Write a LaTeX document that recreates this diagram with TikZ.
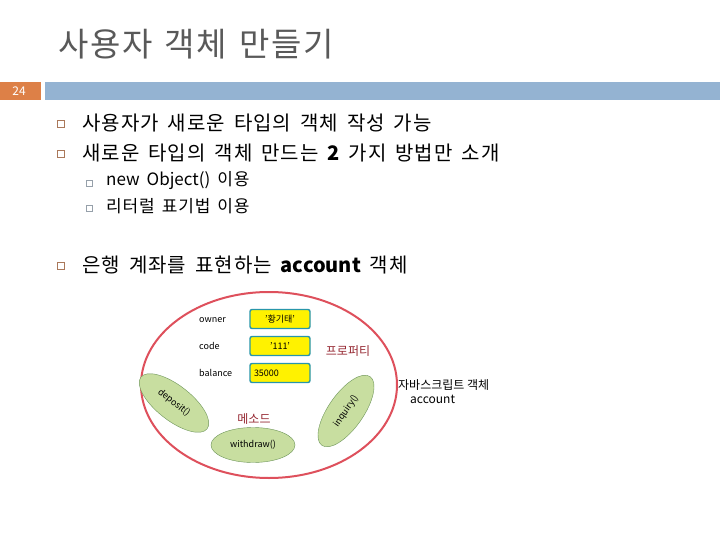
\documentclass[tikz,border=0pt]{standalone}
\usepackage{fontspec}
\setmainfont{Noto Sans CJK KR}
\newfontfamily\widefont{Noto Sans CJK KR}[LetterSpace=5]
\newcommand{\titlefnt}{\fontsize{33}{36}\widefont\spaceskip=12pt\relax}
\newcommand{\itemfnt}{\fontsize{20}{22}\widefont\spaceskip=9pt\relax}
\newcommand{\subfnt}{\fontsize{17}{19}\widefont\spaceskip=7pt\relax}
\newcommand{\lat}[1]{{\normalfont #1}}
\usetikzlibrary{calc}
\definecolor{cus-gray}{RGB}{89, 89, 89}
\definecolor{cus-orange}{RGB}{221, 128, 71}
\definecolor{cus-blue}{RGB}{148, 179, 210}
\definecolor{cus-bullet}{RGB}{170, 120, 90}
\definecolor{cus-sub}{RGB}{150, 160, 170}
\definecolor{cus-red}{RGB}{222, 80, 92}
\definecolor{cus-dred}{RGB}{150, 40, 50}
\definecolor{cus-teal}{RGB}{40, 150, 170}
\definecolor{cus-green}{RGB}{200, 222, 160}
\definecolor{cus-dgreen}{RGB}{110, 150, 90}
\tikzset{
  bul/.style={draw=cus-bullet, fill=white, minimum size=7pt, inner sep=0pt},
  subbul/.style={draw=cus-sub, fill=white, minimum size=6pt, inner sep=0pt},
  item/.style={anchor=west, inner sep=0pt, font=\itemfnt},
  subitem/.style={anchor=west, inner sep=0pt, font=\subfnt},
  prop/.style={anchor=west, inner sep=0pt, font=\fontsize{9}{11}\selectfont},
  valbox/.style={draw=cus-teal, line width=1.4pt, fill=yellow, rounded corners=2pt, minimum width=60pt, minimum height=19pt, inner sep=2pt, font=\fontsize{9}{11}\selectfont},
  meth/.style={draw=cus-dgreen, fill=cus-green, ellipse, minimum width=84pt, minimum height=35pt, inner sep=0pt, font=\fontsize{9}{11}\selectfont},
  lab/.style={text=cus-dred, font=\fontsize{12}{14}\selectfont}
}
\usetikzlibrary{shapes.geometric}
\begin{document}
\begin{tikzpicture}[x=1pt, y=-1pt]
\useasboundingbox (0,0) rectangle (720,540);
% title
\node [anchor=west, text=cus-gray, font=\titlefnt] (title) at (55,44) {사용자 객체 만들기};
\fill [cus-orange] (0,82) rectangle (41,100);
\node [text=white, font=\fontsize{12}{13}\selectfont] (pnum) at (19,91) {24};
\fill [cus-blue] (45,82) rectangle (720,100);
% bullets
\node [bul] (b1) at (61,124) {};
\node [item] (t1) at (82,123) {사용자가 새로운 타입의 객체 작성 가능};
\node [bul] (b2) at (61,154) {};
\node [item] (t2) at (82,153) {새로운 타입의 객체 만드는 \lat{\bfseries 2} 가지 방법만 소개};
\node [subbul] (s1) at (89,183) {};
\node [subitem] (u1) at (106,181) {\lat{new Object()} 이용};
\node [subbul] (s2) at (89,208) {};
\node [subitem] (u2) at (106,206) {리터럴 표기법 이용};
\node [bul] (b3) at (61,266) {};
\node [item] (t3) at (82,265) {은행 계좌를 표현하는 \lat{\bfseries account} 객체};
% object
\draw [cus-red, line width=2pt, fill=white] (269,385) ellipse (128pt and 93pt);
\node [prop] (owner) at (199,320) {owner};
\node [prop] (code) at (199,346) {code};
\node [prop] (balance) at (199,373) {balance};
\node [valbox] (vowner) at (280,319) {\textquoteright 황기태\textquoteright};
\node [valbox] (vcode) at (280,346) {\textquoteright 111\textquoteright};
\node [valbox, text width=52pt, align=left] (vbal) at (280,373) {35000};
\node [lab] (props) at (348,351) {프로퍼티};
\node [lab] (meths) at (254,419) {메소드};
\node [meth, rotate=-38] (deposit) at (174,403) {deposit()};
\node [meth] (withdraw) at (253,445) {withdraw()};
\node [meth, rotate=55] (inquiry) at (346,411) {inquiry()};
\node [anchor=west, align=left, font=\fontsize{12}{14}\selectfont, inner sep=0pt] (jsobj) at (398,392) {자바스크립트 객체\\\hspace{12pt}account};
\end{tikzpicture}
\end{document}
